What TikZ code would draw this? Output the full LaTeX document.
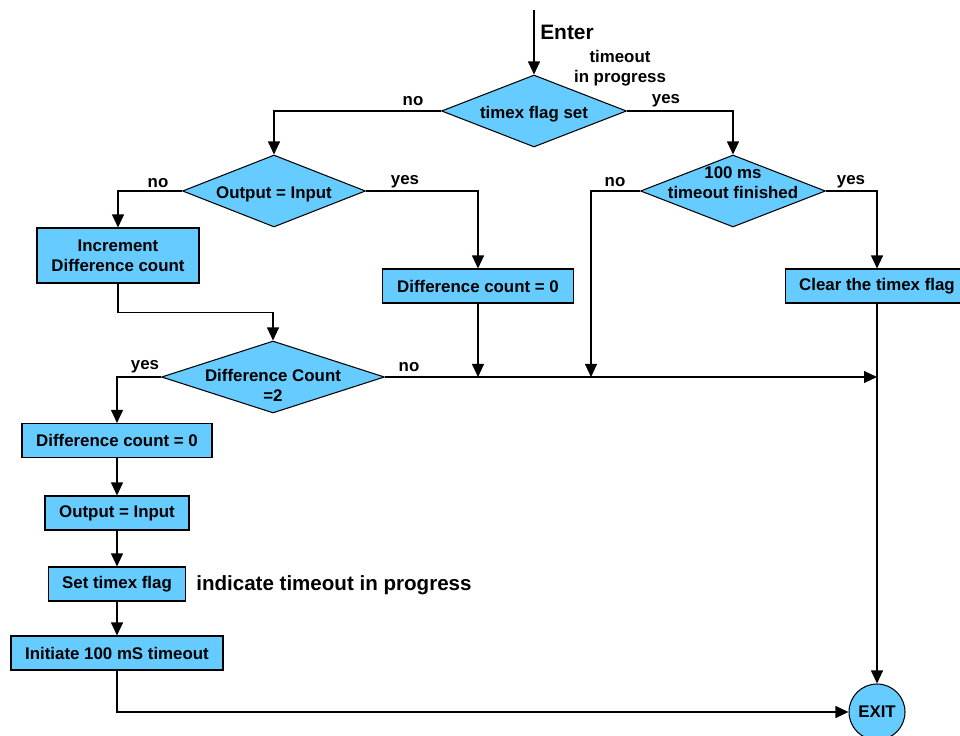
\documentclass[tikz,border=0pt]{standalone}
\usepackage{fontspec}
\setmainfont{Liberation Sans}
\usepackage{xcolor}
\usepackage{tikz}
\usetikzlibrary{shapes.geometric,arrows.meta,positioning,calc}
\definecolor{flowblue}{RGB}{102,204,255}
% text of a decision, kept out of the diamond size
\newcommand{\dtext}[2][-4.3pt]{\raisebox{#1}[0pt][0pt]{\makebox[0pt]{\begin{tabular}[c]{@{}c@{}}#2\end{tabular}}}}

\begin{document}
\begin{tikzpicture}[x=0.02cm, y=-0.02cm, line width=0.6pt,
    >={Triangle[length=7.4pt,width=6.8pt]},
    every node/.style={font=\fontsize{9.6}{11.4}\selectfont\bfseries},
    decision/.style={diamond, draw, fill=flowblue, inner sep=0pt, shape aspect=2.5},
    process/.style={rectangle, draw, fill=flowblue, align=center, minimum height=0.68cm, inner sep=1pt},
    tag/.style={inner sep=1pt}]
    \useasboundingbox (0,0) rectangle (960,736);

    % Decisions
    \node[decision, minimum width=3.7cm, minimum height=1.44cm] (flagset) at (534,111) {\dtext{timex flag set}};
    \node[decision, minimum width=3.66cm, minimum height=1.44cm] (outeq) at (274,191) {\dtext{Output = Input}};
    \node[decision, minimum width=3.7cm, minimum height=1.44cm] (tofin) at (733,191) {\dtext[1.2pt]{100 ms\\timeout finished}};
    \node[decision, minimum width=4.46cm, minimum height=1.44cm] (diffchk) at (273,377) {\dtext[-8.2pt]{Difference Count\\=2}};

    % Processes
    \node[process, minimum width=3.24cm, minimum height=1.1cm] (incdiff) at (118,255.5) {Increment\\Difference count};
    \node[process, minimum width=3.82cm] (clrdiffa) at (478,286) {Difference count = 0};
    \node[process, minimum width=3.68cm] (clrflag) at (877,286) {Clear the timex flag};
    \node[process, minimum width=3.8cm] (clrdiffb) at (117,440.5) {Difference count = 0};
    \node[process, minimum width=2.88cm] (setout) at (117,513) {Output = Input};
    \node[process, minimum width=2.74cm] (setflag) at (117,584) {Set timex flag};
    \node[process, minimum width=4.24cm] (initto) at (117,653) {Initiate 100 mS timeout};

    % Exit
    \node[circle, draw, fill=flowblue, minimum size=1.12cm, inner sep=0pt] (exit) at (877,712) {EXIT};

    % Free ends
    \coordinate (enter) at (534,10);
    \coordinate (tojoin) at (591,377);

    % Texts
    \node[tag, anchor=west, font=\fontsize{11.9}{14}\selectfont\bfseries] (entertxt) at (538,32) {Enter};
    \node[tag, align=center] (progtxt) at (620,68) {timeout\\in progress};
    \node[tag, anchor=west, font=\fontsize{11.7}{14}\selectfont\bfseries] (notetxt) at (194,585) {indicate timeout in progress};
    \node[tag] (no1) at (413,101) {no};
    \node[tag] (yes1) at (666,101) {yes};
    \node[tag] (no2) at (158,183) {no};
    \node[tag] (yes2) at (405,182) {yes};
    \node[tag] (no3) at (615,182) {no};
    \node[tag] (yes3) at (851,182) {yes};
    \node[tag] (yes4) at (145,367) {yes};
    \node[tag] (no4) at (409,367) {no};

    % Connectors
    \draw[->] (enter) -- (flagset.north);
    \draw[->] (flagset.west) -| (outeq.north);
    \draw[->] (flagset.east) -| (tofin.north);
    \draw[->] (outeq.west) -| (incdiff.north);
    \draw[->] (outeq.east) -| (clrdiffa.north);
    \draw[->] (tofin.east) -| (clrflag.north);
    \draw[->] (tofin.west) -| (tojoin);
    \draw[->] (incdiff.south) -- ++(0,29) -| (diffchk.north);
    \draw[->] (clrdiffa.south) -- (clrdiffa.south |- diffchk.east);
    \draw[->] (diffchk.east) -- (diffchk.east -| clrflag.south);
    \draw[->] (diffchk.west) -| (clrdiffb.north);
    \draw[->] (clrflag.south) -- (exit.north);
    \draw[->] (clrdiffb) -- (setout);
    \draw[->] (setout) -- (setflag);
    \draw[->] (setflag) -- (initto);
    \draw[->] (initto.south) |- (exit.west);
\end{tikzpicture}
\end{document}
